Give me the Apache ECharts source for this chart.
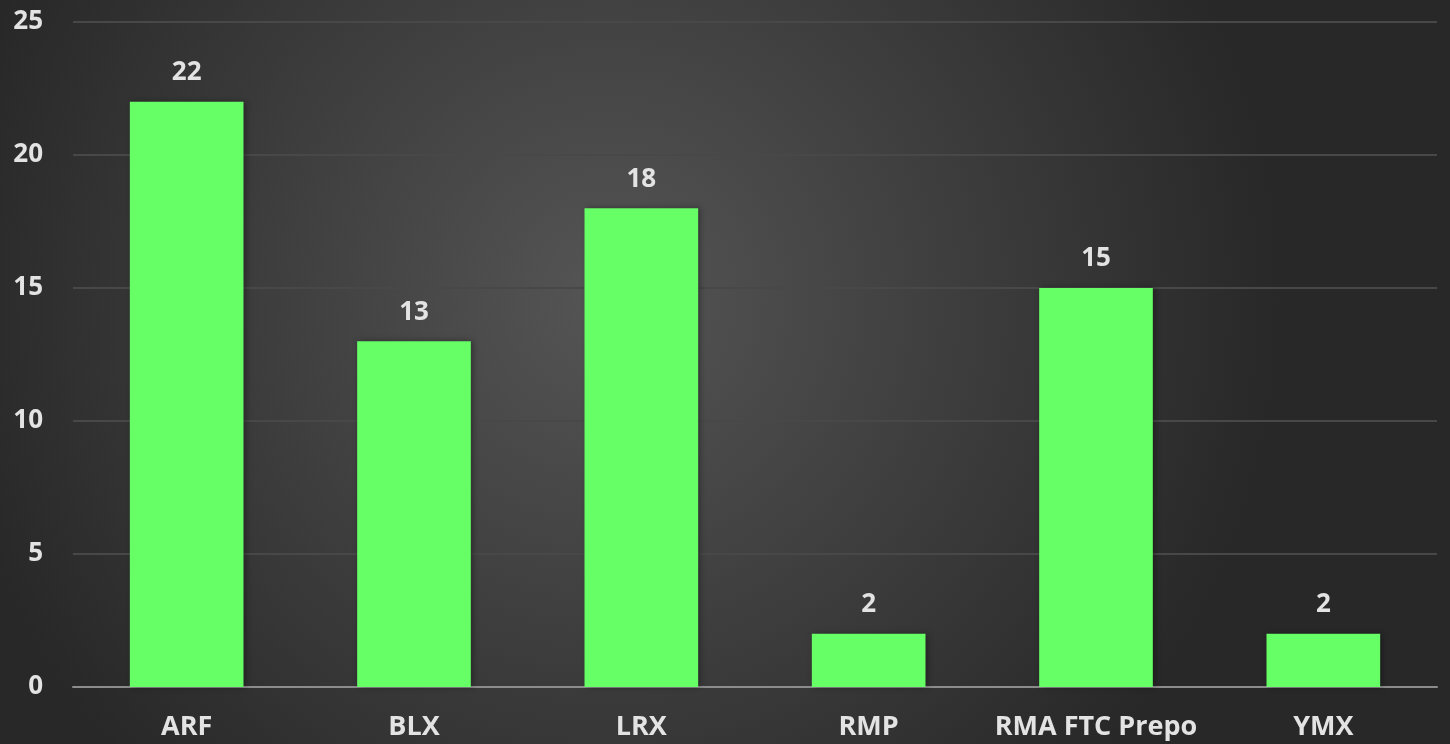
<!DOCTYPE html>
<html>
<head>
<meta charset="utf-8">
<script src="https://cdn.jsdelivr.net/npm/echarts@6/dist/echarts.min.js"></script>
<style>
    html, body { margin: 0; padding: 0; }
    #chart { width: 1450px; height: 744px; }
</style>
</head>
<body>
<div id="chart"></div>
<script>
    // data
    const categories = ['ARF', 'BLX', 'LRX', 'RMP', 'RMA FTC Prepo', 'YMX'];
    const counts = [22, 13, 18, 2, 15, 2];
    const yTicks = [0, 5, 10, 15, 20, 25];

    const labelColor = '#e3e3e3';
    const fontFamily = '"Open Sans", "Noto Sans", sans-serif';

    let myChart = echarts.init(document.getElementById('chart'));
    myChart.setOption({
        animation: false,
        backgroundColor: {
            type: 'radial',
            x: 0.42, y: 0.4, r: 0.9,
            colorStops: [
                {offset: 0, color: '#555555'},
                {offset: 1, color: '#282828'}
            ]
        },
        grid: {
            left: 73,
            right: 13,
            top: 22,
            bottom: 57
        },
        xAxis: {
            type: 'category',
            data: categories,
            axisTick: {show: false},
            axisLine: {lineStyle: {color: '#8c8c8c', width: 2}},
            axisLabel: {
                interval: 0,
                color: labelColor,
                fontFamily: fontFamily,
                fontWeight: 'bold',
                fontSize: 27,
                margin: 27
            }
        },
        yAxis: {
            type: 'value',
            min: yTicks[0],
            max: yTicks[yTicks.length - 1],
            interval: 5,
            axisLine: {show: false},
            axisTick: {show: false},
            splitLine: {lineStyle: {color: '#484848', width: 2}},
            axisLabel: {
                color: labelColor,
                fontFamily: fontFamily,
                fontWeight: 'bold',
                fontSize: 26,
                margin: 30
            }
        },
        series: [{
            type: 'bar',
            data: counts,
            barWidth: '50%',
            itemStyle: {
                color: '#66ff66',
                shadowColor: 'rgba(0,0,0,0.35)',
                shadowBlur: 6,
                shadowOffsetX: 2,
                shadowOffsetY: 0
            },
            label: {
                show: true,
                position: 'top',
                distance: 16,
                color: labelColor,
                fontFamily: fontFamily,
                fontWeight: 'bold',
                fontSize: 26
            }
        }]
    });
</script>
</body>
</html>
